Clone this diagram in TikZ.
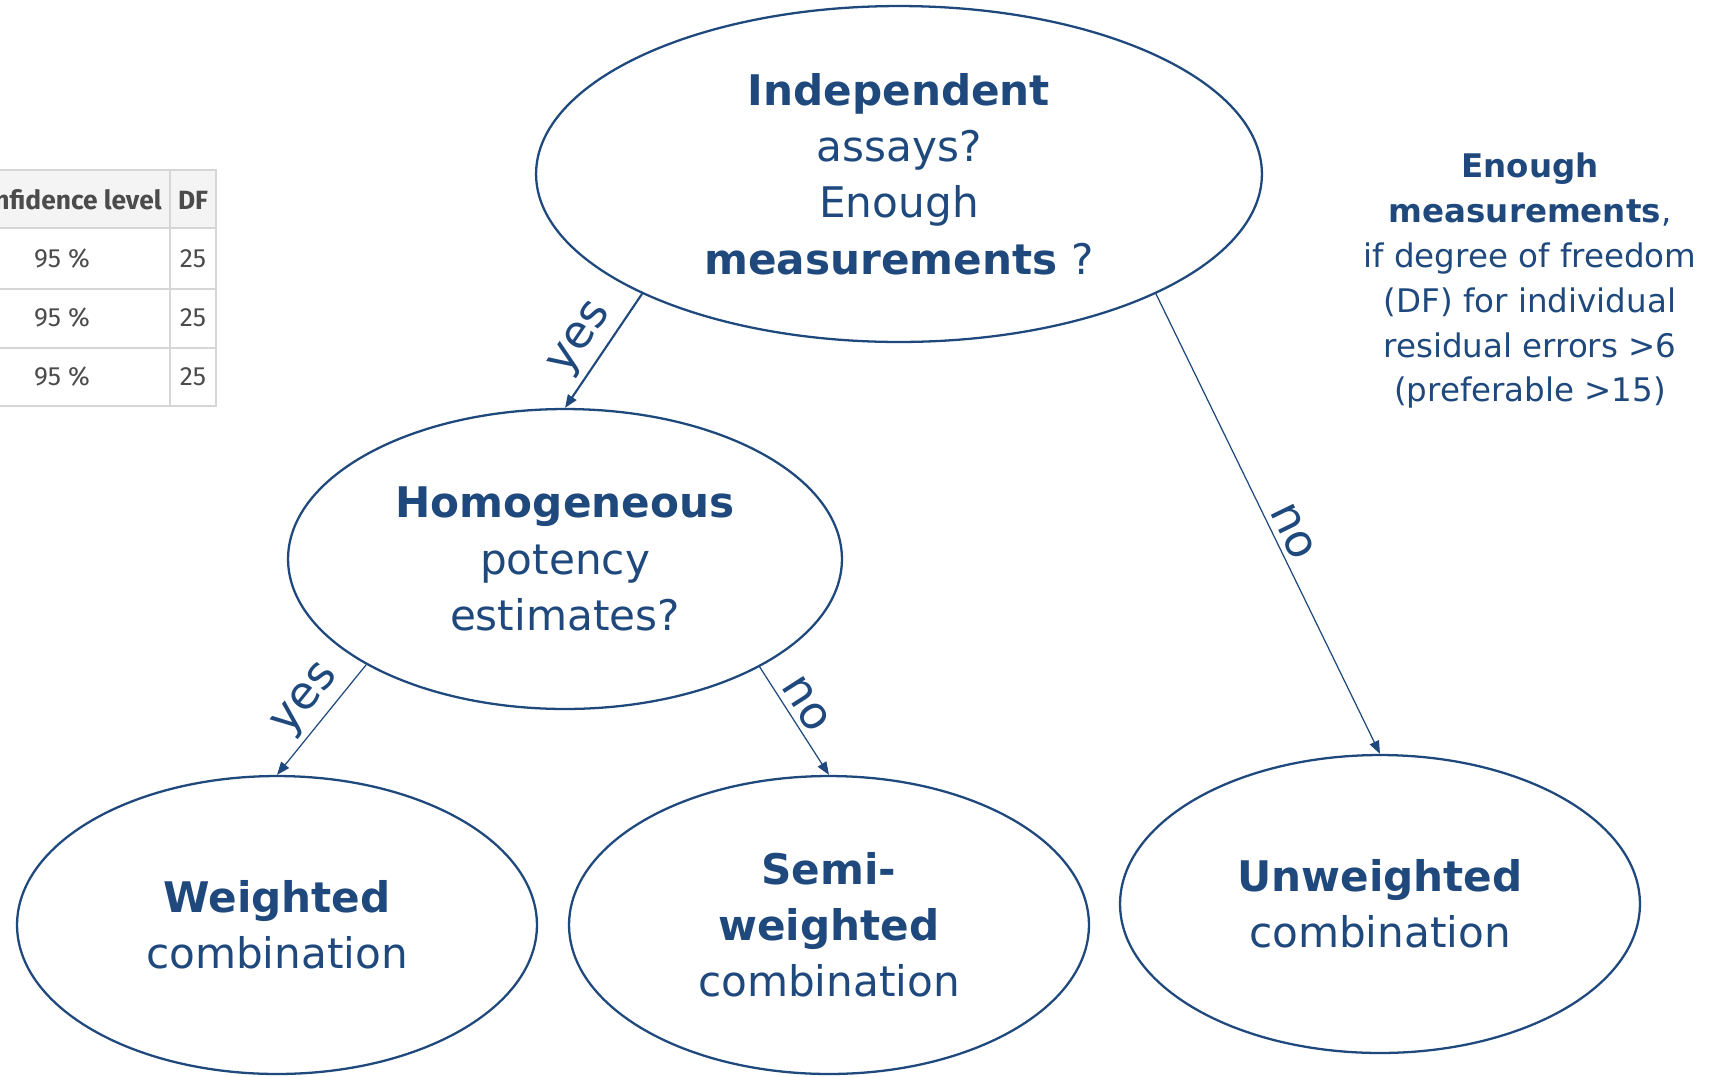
\documentclass[tikz,border=0pt]{standalone}
\usepackage{fontspec}
\setmainfont{DejaVu Sans}
\newfontfamily\tabfont{Fira Sans}
\usetikzlibrary{shapes.geometric,arrows.meta}
\definecolor{navy}{RGB}{31,73,125}
\definecolor{tabline}{RGB}{214,214,214}
\definecolor{tabhead}{RGB}{244,244,244}
\definecolor{tabtext}{RGB}{75,75,75}
\begin{document}
\begin{tikzpicture}[x=0.02cm,y=-0.02cm,
  ell/.style={ellipse, draw=navy, line width=1.3pt, inner sep=0pt, text=navy, align=center,
    font=\fontsize{24}{32}\selectfont},
  arr/.style={draw=navy, line width=0.7pt, -{Triangle[length=0.26cm,width=0.2cm]}},
  lab/.style={text=navy, font=\fontsize{26}{30}\selectfont, sloped, above, inner sep=3pt},
  tabtxt/.style={text=tabtext, font=\tabfont\fontsize{15}{17}\selectfont, inner sep=0pt},
  tabhd/.style={text=tabtext, font=\tabfont\bfseries\fontsize{15}{17}\selectfont, inner sep=0pt},
]
\useasboundingbox (0,0) rectangle (1721,1076);

% table fragment
\fill[tabhead] (0,170) rectangle (216,228);
\draw[tabline, line width=0.8pt] (0,170) -- (216,170) -- (216,406) -- (0,406);
\draw[tabline, line width=0.8pt] (0,228) -- (216,228) (0,289) -- (216,289) (0,348) -- (216,348) (170,170) -- (170,406);
\node[tabhd, anchor=east] (h1) at (162,200) {nfidence level};
\node[tabhd] (h2) at (193,200) {DF};
\node[tabtxt] (r1a) at (62,259) {95 \%};
\node[tabtxt] (r1b) at (193,259) {25};
\node[tabtxt] (r2a) at (62,318) {95 \%};
\node[tabtxt] (r2b) at (193,318) {25};
\node[tabtxt] (r3a) at (62,377) {95 \%};
\node[tabtxt] (r3b) at (193,377) {25};

\node[ell, minimum width=14.52cm, minimum height=6.72cm] (top) at (899,174)
  {\textbf{Independent}\\assays?\\Enough\\\textbf{measurements} ?};
\node[ell, minimum width=11.08cm, minimum height=6.0cm] (hom) at (565,559)
  {\textbf{Homogeneous}\\potency\\estimates?};
\node[ell, minimum width=10.4cm, minimum height=5.96cm] (wei) at (277,925)
  {\textbf{Weighted}\\combination};
\node[ell, minimum width=10.4cm, minimum height=5.96cm] (semi) at (829,925)
  {\textbf{Semi-}\\\textbf{weighted}\\combination};
\node[ell, minimum width=10.4cm, minimum height=5.96cm] (unw) at (1380,904)
  {\textbf{Unweighted}\\combination};

\node[text=navy, align=center, font=\fontsize{18.5}{25.5}\selectfont] (note) at (1530,281)
  {\textbf{Enough}\\\textbf{measurements},\\if degree of freedom\\(DF) for individual\\residual errors >6\\(preferable >15)};

\draw[arr, line width=1.2pt] (top.205) -- node[lab, pos=0.52] {yes} (hom.north);
\draw[arr] (hom.208.5) -- node[lab, pos=0.46] {yes} (wei.north);
\draw[arr] (hom.331.5) -- node[lab, pos=0.44] {no} (semi.north);
\draw[arr] (top.335) -- node[lab, pos=0.535] {no} (unw.north);
\end{tikzpicture}
\end{document}
